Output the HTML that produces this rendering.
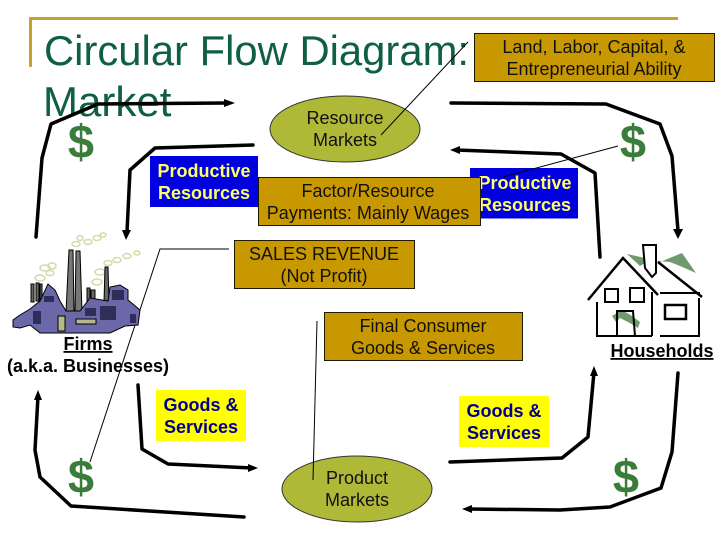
<!DOCTYPE html>
<html><head><meta charset="utf-8"><style>
html,body{margin:0;padding:0;background:#fff}
svg{display:block}
text{font-family:"Liberation Sans",sans-serif}
</style></head><body>
<svg width="720" height="540" viewBox="0 0 720 540" xmlns="http://www.w3.org/2000/svg">
<rect width="720" height="540" fill="#fff"/>
<path d="M30.500 67V18.500H678" fill="none" stroke="#C8A02C" stroke-width="3"/>
<g fill="#0F5F42" font-size="42"><text x="44" y="65" textLength="425" lengthAdjust="spacingAndGlyphs">Circular Flow Diagram:</text><text x="43" y="116">Market</text></g>

<rect x="474.500" y="33.500" width="240" height="48" fill="#C89800" stroke="#221a00"/>
<ellipse cx="345" cy="129" rx="75" ry="33" fill="#B0B838" stroke="#333"/>
<rect x="150" y="156" width="108" height="51" fill="#0000E0"/>
<rect x="470" y="168" width="108" height="50.500" fill="#0000E0"/>
<g fill="#FFFF66" font-size="18" font-weight="bold" text-anchor="middle">
<text x="204" y="177">Productive</text>
<text x="204" y="199">Resources</text>
<text x="525" y="189">Productive</text>
<text x="525" y="211">Resources</text>
</g>
<rect x="258.500" y="177.500" width="222" height="48" fill="#C89800" stroke="#221a00"/>
<rect x="234.500" y="240.500" width="180" height="48" fill="#C89800" stroke="#221a00"/>
<rect x="324.500" y="312.500" width="198" height="48" fill="#C89800" stroke="#221a00"/>
<rect x="156" y="390" width="90" height="51" fill="#FFFF00"/>
<rect x="459" y="396" width="90" height="51" fill="#FFFF00"/>
<ellipse cx="357" cy="489" rx="75" ry="33" fill="#B0B838" stroke="#333"/>

<g fill="#111" font-size="18" text-anchor="middle">
<text x="594" y="53">Land, Labor, Capital, &amp;</text>
<text x="594" y="75">Entrepreneurial Ability</text>
<text x="345" y="124">Resource</text>
<text x="345" y="146">Markets</text>
<text x="368" y="197">Factor/Resource</text>
<text x="368" y="219">Payments: Mainly Wages</text>
<text x="324" y="260">SALES REVENUE</text>
<text x="324" y="282">(Not Profit)</text>
<text x="423" y="332">Final Consumer</text>
<text x="423" y="354">Goods &amp; Services</text>
<text x="357" y="484">Product</text>
<text x="357" y="506">Markets</text>
</g>
<g fill="#000090" font-size="18" font-weight="bold" text-anchor="middle">
<text x="201" y="411">Goods &amp;</text>
<text x="201" y="433">Services</text>
<text x="504" y="417">Goods &amp;</text>
<text x="504" y="439">Services</text>
</g>
<g fill="#000" font-size="18" font-weight="bold" text-anchor="middle">
<text x="88" y="350" text-decoration="underline">Firms</text>
<text x="88" y="372">(a.k.a. Businesses)</text>
<text x="662" y="357" text-decoration="underline">Households</text>
</g>
<g fill="#3A7D3A" font-size="47" font-weight="bold" text-anchor="middle">
<text x="81" y="158">$</text>
<text x="633" y="158">$</text>
<text x="81" y="493">$</text>
<text x="626" y="493">$</text>
</g>

<g fill="none" stroke="#000" stroke-width="1">
<path d="M468 42L381 135"/>
<path d="M618 146L503 177"/>
<path d="M229 249H160L90 462"/>
<path d="M317 321L313 480"/>
</g>

<g fill="none" stroke="#000" stroke-width="3.500" stroke-linejoin="round" stroke-linecap="round">
<path d="M36 237L42 158L51 124L98 104L226 103"/>
<path d="M253 145L155 148L130 170L127 232"/>
<path d="M451 103L606 104L660 124L672 156L678 231"/>
<path d="M600 257L595 173L561 154L456 150"/>
<path d="M244 517L71 506L40 477L35 450L38 396"/>
<path d="M138 385L142 449L168 464L252 468"/>
<path d="M450 462L562 458L588 437L594 372"/>
<path d="M678 373L672 452L661 488L610 507L560 510L468 509"/>
</g>
<g fill="#000">
<path d="M235 103L224 99V107Z"/>
<path d="M126 240L122 230H131Z"/>
<path d="M678 239L673 229H683Z"/>
<path d="M450 150L460 146V154Z"/>
<path d="M38 390L34 400H42Z"/>
<path d="M258 468L248 464V472Z"/>
<path d="M594 366L590 376H598Z"/>
<path d="M462 509L472 505V513Z"/>
</g>

<!-- factory -->
<g fill="none" stroke="#D8D8A8" stroke-width="1.500">
<ellipse cx="76" cy="244" rx="4" ry="2.500"/><ellipse cx="80" cy="238" rx="3" ry="2.500"/><ellipse cx="88" cy="242" rx="4" ry="2.500"/><ellipse cx="97" cy="238" rx="4" ry="2.500"/><ellipse cx="103" cy="235" rx="3" ry="2"/>
<ellipse cx="45" cy="268" rx="5" ry="3"/><ellipse cx="52" cy="266" rx="4" ry="3"/><ellipse cx="40" cy="278" rx="5" ry="3"/><ellipse cx="50" cy="273" rx="4" ry="2.500"/>
<ellipse cx="117" cy="260" rx="4" ry="2.500"/><ellipse cx="127" cy="256" rx="4" ry="2.500"/><ellipse cx="137" cy="253" rx="3" ry="2"/><ellipse cx="100" cy="272" rx="5" ry="3"/><ellipse cx="97" cy="282" rx="5" ry="3"/><ellipse cx="108" cy="263" rx="4" ry="2.500"/>
</g>
<g stroke="#000" stroke-width="1">
<path d="M31 284h3v18h-3zM36 283h3v18h-3zM40 284h2v16h-2z" fill="#666"/>
<path d="M66 312L69 250H73L74 312ZM75 312L76 251H80L82 312Z" fill="#777"/>
<path d="M87 302V288H90V302ZM91 302V290H95V302ZM104 302L105 267H108L109 302Z" fill="#666"/>
<path d="M13 320V327L20 328L30 325L40 333H110L125 326L138 325L140 310L128 300V290L120 285L110 287L108 301L90 298L80 311H66L60 301L55 290L48 284L40 301L30 309L20 315Z" fill="#6A68A8"/>
</g>
<g fill="#2E2E58"><rect x="33" y="311" width="8" height="13"/><rect x="100" y="306" width="16" height="14"/><rect x="85" y="308" width="11" height="8"/><rect x="112" y="290" width="12" height="10"/><rect x="130" y="314" width="6" height="9"/><rect x="44" y="296" width="10" height="6"/></g>
<rect x="58" y="316" width="7" height="15" fill="#B8B88A" stroke="#000"/>
<rect x="76" y="319" width="20" height="5" fill="#B8B88A" stroke="#000"/>

<!-- house -->
<path d="M627 254L645 258L660 262L682 253L696 273L680 266L670 262L650 260L640 266Z" fill="#6E9A6E"/>
<path d="M612 316L622 310L632 316L640 322L638 328L628 322L620 318L616 322Z" fill="#6E9A6E"/>
<g fill="none" stroke="#000" stroke-width="2">
<path d="M588 300L623 258L658 295" stroke-width="2.500"/>
<path d="M643 245H656V273L652 277L645 268Z" fill="#fff"/>
<path d="M658 262L702 297" stroke-width="2.500"/>
<path d="M597 302V336H652M660 336H699V298M652 292V336M660 293H700"/>
<rect x="605" y="289" width="13" height="13"/><rect x="630" y="288" width="14" height="14"/>
<rect x="665" y="305" width="21" height="14" stroke-width="2.500"/>
<path d="M617 336V311H633L635 336"/>
</g>
</svg>
</body></html>
